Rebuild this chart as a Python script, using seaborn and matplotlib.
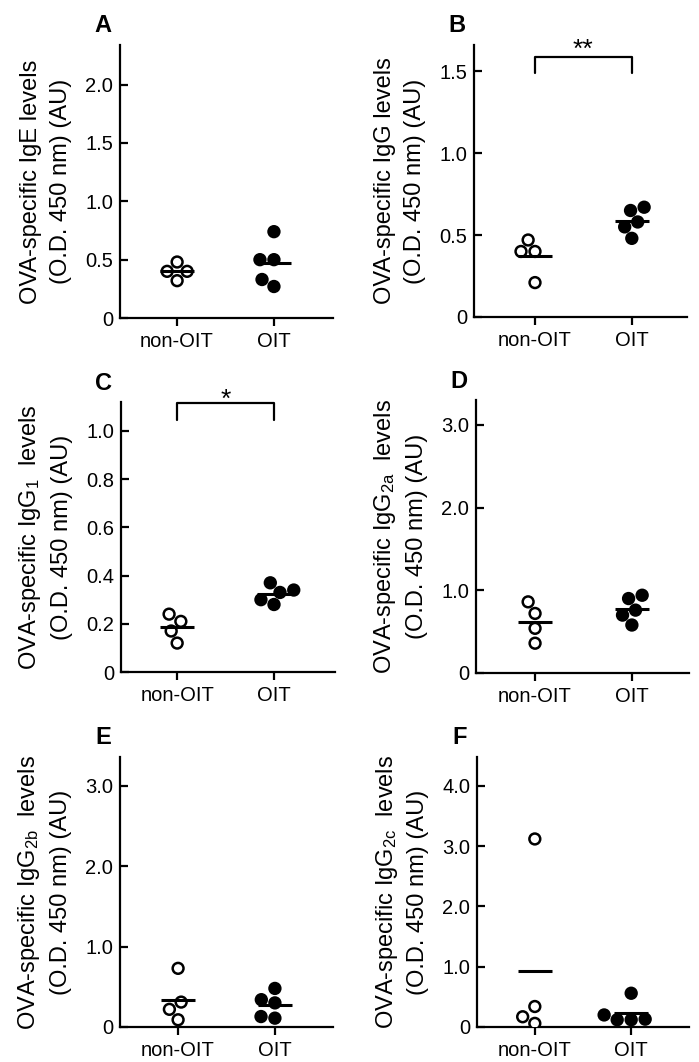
import matplotlib
matplotlib.use("Agg")
import matplotlib.pyplot as plt
import seaborn as sns
import pandas as pd
from matplotlib.ticker import FuncFormatter

# groups on the x axis
groups = ['non-OIT', 'OIT']

# O.D. 450 nm values
ige_non = [0.48, 0.40, 0.40, 0.32]
ige_oit = [0.74, 0.50, 0.50, 0.33, 0.27]
igg_non = [0.47, 0.40, 0.40, 0.21]
igg_oit = [0.67, 0.65, 0.58, 0.55, 0.48]
igg1_non = [0.24, 0.21, 0.17, 0.12]
igg1_oit = [0.37, 0.34, 0.33, 0.30, 0.28]
igg2a_non = [0.86, 0.72, 0.54, 0.36]
igg2a_oit = [0.94, 0.90, 0.76, 0.70, 0.58]
igg2b_non = [0.73, 0.31, 0.22, 0.09]
igg2b_oit = [0.48, 0.34, 0.30, 0.13, 0.11]
igg2c_non = [3.12, 0.34, 0.17, 0.06]
igg2c_oit = [0.56, 0.20, 0.13, 0.12, 0.12]

letters = ['A', 'B', 'C', 'D', 'E', 'F']
isotypes = ['IgE', 'IgG', r'IgG$\mathregular{_1}$ ', r'IgG$\mathregular{_{2a}}$ ',
            r'IgG$\mathregular{_{2b}}$ ', r'IgG$\mathregular{_{2c}}$ ']
yticks = [[0, 0.5, 1.0, 1.5, 2.0], [0, 0.5, 1.0, 1.5], [0, 0.2, 0.4, 0.6, 0.8, 1.0],
          [0, 1.0, 2.0, 3.0], [0, 1.0, 2.0, 3.0], [0, 1.0, 2.0, 3.0, 4.0]]
ytops = [2.34, 1.66, 1.12, 3.30, 3.36, 4.48]
signif = [None, '**', '*', None, None, None]

sns.set_style('ticks')
plt.rcParams['font.family'] = ['Liberation Sans', 'DejaVu Sans']
plt.rcParams['mathtext.fontset'] = 'custom'
plt.rcParams['mathtext.rm'] = 'Liberation Sans'
for key in ['text.color', 'axes.labelcolor', 'xtick.color', 'ytick.color', 'axes.edgecolor']:
    plt.rcParams[key] = 'black'

W, H = 699, 1062
fig = plt.figure(figsize=(W / 100, H / 100), dpi=100)

# axes boxes in pixels: left, right, top, bottom
boxes = [(120, 333, 45, 318), (474, 687, 45, 317), (121, 335, 402, 672),
         (476, 689, 400, 673), (120, 333, 757, 1027), (477, 689, 757, 1027)]
xlims = [(-0.59, 1.61), (-0.63, 1.57), (-0.58, 1.63), (-0.61, 1.59), (-0.6, 1.6), (-0.6, 1.6)]

data = [(ige_non, ige_oit), (igg_non, igg_oit), (igg1_non, igg1_oit),
        (igg2a_non, igg2a_oit), (igg2b_non, igg2b_oit), (igg2c_non, igg2c_oit)]

fmt = FuncFormatter(lambda v, p: '0' if v == 0 else f'{v:.1f}')

for i in range(6):
    l, r, t, b = boxes[i]
    ax = fig.add_axes([l / W, 1 - b / H, (r - l) / W, (b - t) / H])
    non, oit = data[i]
    df = pd.DataFrame({'group': ['non-OIT'] * len(non) + ['OIT'] * len(oit),
                       'value': non + oit})
    sns.swarmplot(data=df, x='group', y='value', hue='group', order=groups,
                  palette={'non-OIT': 'white', 'OIT': 'black'}, edgecolor='black',
                  linewidth=1.8, size=7.8, legend=False, ax=ax, zorder=3)
    sns.pointplot(data=df, x='group', y='value', order=groups, estimator='mean',
                  errorbar=None, color='black', markers='_', markersize=24,
                  markeredgewidth=2.2, linestyle='none', ax=ax, zorder=4)
    ax.set_xlim(*xlims[i])
    ax.set_ylim(0, ytops[i])
    ax.set_yticks(yticks[i])
    ax.yaxis.set_major_formatter(fmt)
    ax.set_xlabel('')
    ax.set_ylabel('OVA-specific ' + isotypes[i] + ' levels\n(O.D. 450 nm) (AU)',
                  fontsize=17, linespacing=1.45)
    ax.yaxis.set_label_coords(-0.225, 0.5)
    sns.despine(ax=ax)
    for s in ['left', 'bottom']:
        ax.spines[s].set_linewidth(1.6)
    ax.tick_params(axis='y', direction='in', length=6, width=1.6, pad=5, labelsize=14.5)
    ax.tick_params(axis='x', direction='out', length=6, width=1.6, pad=4, labelsize=14.5)

    if signif[i]:
        if i == 1:
            lo, hi, st = 1.49, 1.585, 1.585
        else:
            lo, hi, st = 1.045, 1.115, 1.10
        ax.plot([0, 0, 1, 1], [lo, hi, hi, lo], color='black', lw=1.6, clip_on=False)
        ax.text(0.5, st, signif[i], ha='center', va='baseline', fontsize=19, clip_on=False)

    fig.text((l - 17) / W, 1 - (t - 19) / H, letters[i], fontsize=17, fontweight='bold',
             ha='center', va='center')

fig.savefig('out.png', dpi=100)
